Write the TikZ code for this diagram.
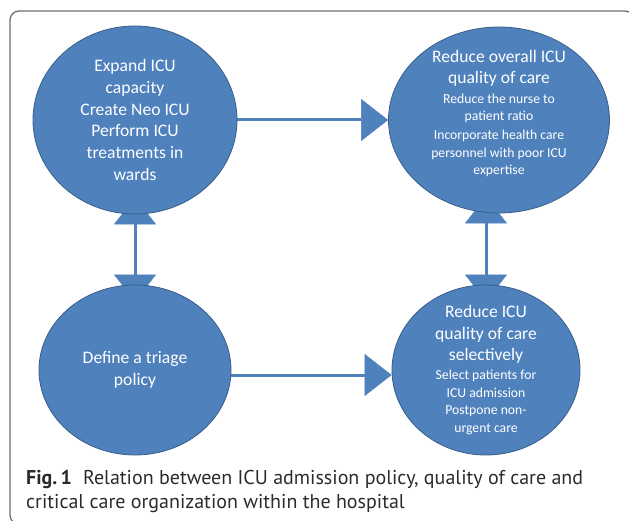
\documentclass[tikz,border=0pt]{standalone}
\usepackage{fontspec}
\setmainfont{Carlito}
\newfontfamily\capfont{PT Sans}
\usetikzlibrary{shapes.geometric, arrows.meta, backgrounds}
\definecolor{officeblue}{HTML}{4F81BD}
\definecolor{officeedge}{HTML}{385D8A}
\definecolor{captiongray}{HTML}{2B2B2B}
\definecolor{framegray}{HTML}{6E6E6E}
\newcommand{\fine}{\fontsize{13.7}{16.5}\selectfont}

\begin{document}
\begin{tikzpicture}[x=1pt, y=-1pt]
                    \tikzstyle{every node}=[font=\fontsize{17.6}{21.7}\selectfont]
                    \tikzstyle{bubble} = [ellipse, draw=officeedge, line width=0.8pt, fill=officeblue, text=white, align=center, inner sep=-10pt]
                    \tikzstyle{link} = [line width=3pt, draw=officeblue, -{Triangle[length=27pt,width=42pt,line width=0.4pt]}]
                    \tikzstyle{twoway} = [line width=3pt, draw=officeblue, {Triangle[length=27pt,width=42pt,line width=0.4pt]}-{Triangle[length=27pt,width=42pt,line width=0.4pt]}, shorten <=-17pt, shorten >=-17pt]
                    \tikzstyle{captext} = [font=\capfont\fontsize{20}{24}\selectfont, text=captiongray, anchor=base west, inner sep=0pt]

                    \useasboundingbox (0,0) rectangle (629,521);
                    \draw[framegray, line width=1.3pt, rounded corners=9pt] (10,11) rectangle (634,524);

                    \node[bubble, minimum width=204pt, minimum height=188pt](expand) at (135,120) {Expand ICU\\capacity\\Create Neo ICU\\Perform ICU\\treatments in\\wards};
                    \node[bubble, minimum width=221pt, minimum height=186pt](overall) at (499,120) {Reduce overall ICU\\[-1pt]quality of care\\[-2pt]\fine Reduce the nurse to\\[-4pt]\fine patient ratio\\[-3pt]\fine Incorporate health care\\[-4pt]\fine personnel with poor ICU\\[-4pt]\fine expertise\\[-7pt]};
                    \node[bubble, minimum width=192pt, minimum height=170pt](triage) at (135,370) {Define a triage\\policy};
                    \node[bubble, minimum width=188pt, minimum height=170pt](selective) at (486,370) {Reduce ICU\\quality of care\\selectively\\[-3pt]\fine Select patients for\\[-4pt]\fine ICU admission\\[-4pt]\fine Postpone non-\\[-4pt]\fine urgent care};

                    \begin{scope}[on background layer]
                    \draw[link] (expand.east) -- (overall.west);
                    \draw[link] ([yshift=-5pt]triage.east) -- ([yshift=-5pt]selective.west);
                    \draw[twoway] (expand.south) -- (triage.north);
                    \draw[twoway] (selective.north |- overall.south) -- (selective.north);
                    \end{scope}

                    \node[captext](cap1) at (26,484) {\textbf{Fig.\,1}\hspace{0.55em}Relation between ICU admission policy, quality of care and};
                    \node[captext](cap2) at (26,508) {critical care organization within the hospital};
            \end{tikzpicture}
\end{document}
